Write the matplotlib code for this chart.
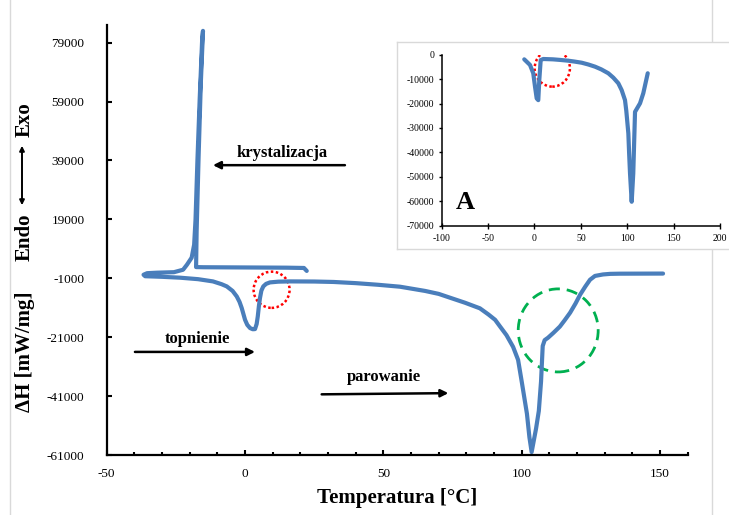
import matplotlib
matplotlib.use("Agg")
import matplotlib.pyplot as plt
from matplotlib.patches import Ellipse, FancyArrowPatch
from matplotlib.ticker import MultipleLocator
import numpy as np

plt.rcParams['font.family'] = ['Liberation Serif', 'DejaVu Serif']
plt.rcParams['axes.unicode_minus'] = False

# DSC curve: cooling run (crystallization) then heating run (melting, evaporation)
cooling_T = [22.3, 21.3, 15, 5, -5, -15, -17.7, -17.5, -16.8, -16.0, -15.2,
             -15.5, -16.4, -17.2, -17.9, -18.4, -19.3, -21.0, -22.4, -25.7, -31.8, -35.4, -36.7]
cooling_H = [1500, 2500, 2600, 2650, 2700, 2750, 2800, 15000, 40000, 65000, 83000,
             80100, 59700, 39300, 18900, 10400, 6000, 3600, 1900, 1070, 900, 730, 200]
heating_T = [-36.1, -34.3, -30, -23.5, -17, -11.6, -8.5, -6.6, -4.5, -3.0, -2.0, -1.2, 0.0, 0.8, 1.8, 2.8, 3.6,
             4.2, 4.6, 5.0, 5.4, 5.9, 6.6, 7.6, 9.0, 12, 16.3, 25, 32, 40, 48, 56.0, 65.1, 70, 74.1, 79.5, 84.9,
             88.0, 90.4, 92.2, 94.5, 96.9, 98.7, 100.0, 101.9, 102.8, 103.6,
             105.2, 106.2, 107.0, 107.6, 108.3, 109.5, 111.5, 113.8, 115.5, 117.5, 119.5, 121.1, 123.0,
             124.7, 126.5, 129.4, 132.0, 135.5, 151.1]
heating_H = [-300, -360, -500, -800, -1300, -2060, -3000, -3760, -5300, -7160, -9000, -11100, -15100, -16800,
             -17900, -18300, -18250,
             -16500, -13960, -10500, -7700, -5200, -3760, -2900, -2400, -2150, -2060, -2100, -2250, -2650, -3200,
             -3860, -5300, -6300, -7600, -9300, -11200,
             -13300, -15100, -17400, -20300, -24300, -28700, -36000, -47000, -55000, -60000,
             -52000, -46000, -36000, -24000, -22000, -21200, -19500, -17400, -15300, -12700, -9500, -6600, -3800,
             -1500, -200, 300, 500, 560, 600]

# inset (A): heating run only
inset_T = [-11.0, -4.8, -1.3, 0.6, 2.4, 4.1, 5.2, 6.7, 9.5, 20, 28, 36.5, 43, 50.9, 58, 65.3, 72, 79.6, 85,
           90.4, 94, 97.6, 99, 101.2, 102, 103.0, 104.8, 106.5, 108.4, 113.8, 117.3, 122.1]
inset_H = [-1900, -4200, -7600, -13100, -17900, -18600, -10400, -2200, -1760, -1900, -2150, -2460, -2800, -3280,
           -4000, -4900, -6000, -7600, -9400,
           -11700, -14500, -18600, -23000, -32200, -40000, -48600, -60200, -48600, -23400, -19900, -15800, -7600]

main_yticks = [-61000, -41000, -21000, -1000, 19000, 39000, 59000, 79000]
main_xticks = [-50, 0, 50, 100, 150]
inset_yticks = [0, -10000, -20000, -30000, -40000, -50000, -60000, -70000]
inset_xticks = [-100, -50, 0, 50, 100, 150, 200]

blue = '#4a7ebb'

fig = plt.figure(figsize=(7.29, 5.15), dpi=100)

# light grey page border lines
fig.add_artist(plt.Line2D([10/729, 10/729], [0, 1], color='#d9d9d9', lw=1))
fig.add_artist(plt.Line2D([712/729, 712/729], [0, 1], color='#d9d9d9', lw=1))

ax = fig.add_axes([0.1464, 0.1165, 0.7969, 0.835])
ax.plot(np.concatenate([cooling_T, heating_T]), np.concatenate([cooling_H, heating_H]),
        color=blue, lw=3, solid_capstyle='round', solid_joinstyle='round')
ax.set_xlim(-50, 160)
ax.set_ylim(-61000, 85000)
ax.set_xticks(main_xticks)
ax.xaxis.set_minor_locator(MultipleLocator(10))
ax.set_yticks(main_yticks)
for s in ['top', 'right']:
    ax.spines[s].set_visible(False)
for s in ['left', 'bottom']:
    ax.spines[s].set_linewidth(1.6)
ax.tick_params(axis='both', which='major', direction='in', length=3.5, width=1.5, labelsize=9.5)
ax.tick_params(axis='x', which='minor', direction='in', length=2.5, width=1.5)
ax.tick_params(axis='x', which='major', pad=9)
ax.tick_params(axis='y', which='major', pad=16)
ax.set_xlabel('Temperatura [°C]', fontsize=15, fontweight='bold', labelpad=6)

# marked regions
ax.add_patch(Ellipse((9.6, -4900), 13, 12300, fill=False, edgecolor='red', lw=1.8, linestyle=(0, (1, 1))))
ax.add_patch(Ellipse((113.2, -18700), 28.9, 28200, fill=False, edgecolor='#00b050', lw=2, linestyle=(0, (4, 2.5))))

# process labels with arrows
arrow = dict(arrowstyle='-|>', lw=1.8, color='black', mutation_scale=11, shrinkA=0, shrinkB=0)
ax.text(13.3, 41400, 'krystalizacja', fontsize=12, fontweight='bold', ha='center', va='center')
ax.annotate('', xy=(-11.6, 37400), xytext=(36.1, 37400), arrowprops=arrow)
ax.text(-17.3, -21500, 'topnienie', fontsize=12, fontweight='bold', ha='center', va='center')
ax.annotate('', xy=(3.6, -26000), xytext=(-39.8, -26000), arrowprops=arrow)
ax.text(50.2, -34400, 'parowanie', fontsize=12, fontweight='bold', ha='center', va='center')
ax.annotate('', xy=(73.5, -40000), xytext=(27.7, -40400), arrowprops=arrow)

# y axis title built from pieces
fig.text(25/729, 1 - 352/515, 'ΔH [mW/mg]', rotation=90, fontsize=15, fontweight='bold', ha='center', va='center')
fig.text(25/729, 1 - 237/515, 'Endo', rotation=90, fontsize=15, fontweight='bold', ha='center', va='center')
fig.text(25/729, 1 - 120/515, 'Exo', rotation=90, fontsize=15, fontweight='bold', ha='center', va='center')
fig.add_artist(FancyArrowPatch((22/729, 1 - 208/515), (22/729, 1 - 143/515),
               transform=fig.transFigure, arrowstyle='<|-|>', mutation_scale=7, lw=1.4, color='black'))

# inset frame
frame = fig.add_axes([397/729, 1 - 249/515, 0.5, 207/515])
frame.set_xticks([])
frame.set_yticks([])
for s in frame.spines.values():
    s.set_edgecolor('#d9d9d9')
    s.set_linewidth(1)
frame.set_zorder(2)

axi = fig.add_axes([441.7/729, 1 - 225.7/515, 278.3/729, 171/515])
axi.set_zorder(3)
axi.patch.set_alpha(0)
axi.plot(inset_T, inset_H, color=blue, lw=3, solid_capstyle='round', solid_joinstyle='round')
axi.set_xlim(-100, 200)
axi.set_ylim(-70000, 0)
axi.set_xticks(inset_xticks)
axi.set_yticks(inset_yticks)
for s in ['top', 'right']:
    axi.spines[s].set_visible(False)
for s in ['left', 'bottom']:
    axi.spines[s].set_linewidth(1.1)
axi.tick_params(axis='x', direction='inout', length=4, width=1, labelsize=7, pad=4)
axi.tick_params(axis='y', direction='out', length=2.5, width=1, labelsize=7, pad=3)
axi.add_patch(Ellipse((19.2, -5570), 38, 15000, fill=False, edgecolor='red', lw=1.8, linestyle=(0, (1, 1))))
axi.text(-75, -60500, 'A', fontsize=19, fontweight='bold', ha='center', va='center')

fig.savefig('out.png', dpi=100)
